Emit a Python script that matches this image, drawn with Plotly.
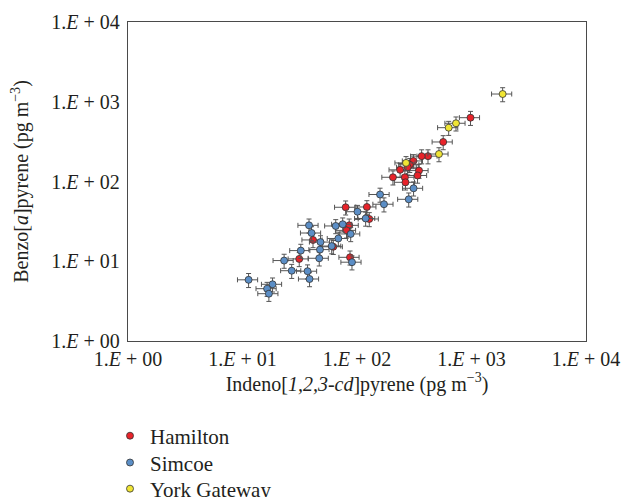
import plotly.graph_objects as go

# Hamilton (red)
ham_x = [980, 566, 417, 367, 311, 289, 277, 238, 348, 338, 206, 262, 265,
         122, 128, 79.6, 85.5, 81.0, 41.3, 62.1, 31.3, 86.9]
ham_y = [631, 313, 208, 208, 181, 162, 151, 140, 137, 119, 113, 113, 97.7,
         47.9, 33.9, 47.5, 28.2, 24.4, 18.5, 15.2, 10.7, 11.2]

# Simcoe (blue)
sim_x = [312, 159, 283, 172, 101, 119, 38.1, 65.2, 75.0, 40.1, 88.1, 68.7, 48.0,
         60.1, 32.3, 47.5, 23.1, 46.8, 90.4, 26.9, 37.0, 38.5, 11.3, 18.3, 16.4, 17.0]
sim_y = [82.2, 68.7, 59.8, 51.9, 41.8, 34.4, 28.2, 27.7, 29.1, 22.6, 22.0, 19.3, 17.4,
         15.5, 13.6, 14.0, 10.2, 10.9, 9.73, 7.61, 7.50, 5.99, 5.85, 5.14, 4.53, 3.92]

# York Gateway (yellow)
york_x = [1871, 732, 632, 520, 268]
york_y = [1250, 537, 473, 221, 171]

tick_vals = [1, 10, 100, 1000, 10000]
tick_text = ["1.<i>E</i> + 00", "1.<i>E</i> + 01", "1.<i>E</i> + 02",
             "1.<i>E</i> + 03", "1.<i>E</i> + 04"]

ERR_PCT = 20
FONT = "Liberation Serif"
TXT = "#231f20"

series = [
    ("Hamilton", ham_x, ham_y, "#e8232a", "legend", -0.298),
    ("Simcoe", sim_x, sim_y, "#5b8ec6", "legend2", -0.382),
    ("York Gateway", york_x, york_y, "#f0e534", "legend3", -0.464),
]

fig = go.Figure()
for name, xs, ys, col, leg, _ in series:
    fig.add_trace(go.Scatter(
        x=xs, y=ys, mode="markers", name=name, legend=leg,
        marker=dict(size=7, color=col, line=dict(color="#333333", width=0.8)),
        error_x=dict(type="percent", value=ERR_PCT, color="#555555",
                     thickness=1, width=2.5),
        error_y=dict(type="percent", value=ERR_PCT, color="#555555",
                     thickness=1, width=2.5),
    ))

axis_common = dict(
    type="log", range=[0, 4], tickvals=tick_vals, ticktext=tick_text,
    showgrid=False, zeroline=False, showline=True, linecolor="#4a4a4a",
    linewidth=1.3, mirror=True, ticks="", automargin=False,
    tickfont=dict(family=FONT, size=20, color=TXT),
)

legend_common = dict(orientation="v", x=-0.0393, xanchor="left", yanchor="middle",
                     font=dict(family=FONT, size=21, color=TXT),
                     itemwidth=30, bgcolor="rgba(0,0,0,0)", borderwidth=0)

layout_legends = {}
for name, xs, ys, col, leg, ypos in series:
    layout_legends[leg] = dict(**legend_common, y=ypos)

fig.update_layout(
    width=638, height=497,
    margin=dict(l=120, r=60, t=14, b=164, autoexpand=False),
    paper_bgcolor="white", plot_bgcolor="white",
    font=dict(family=FONT, size=20, color=TXT),
    xaxis=dict(**axis_common,
               title=dict(text="Indeno[<i>1,2,3-cd</i>]pyrene (pg m<sup>−3</sup>)",
                          font=dict(family=FONT, size=20, color=TXT), standoff=4)),
    yaxis=dict(**axis_common, ticklabelstandoff=3,
               title=dict(text="Benzo[<i>a</i>]pyrene (pg m<sup>−3</sup>)",
                          font=dict(family=FONT, size=20, color=TXT), standoff=18)),
    showlegend=True,
    **layout_legends,
)

fig.write_html("out.html")
